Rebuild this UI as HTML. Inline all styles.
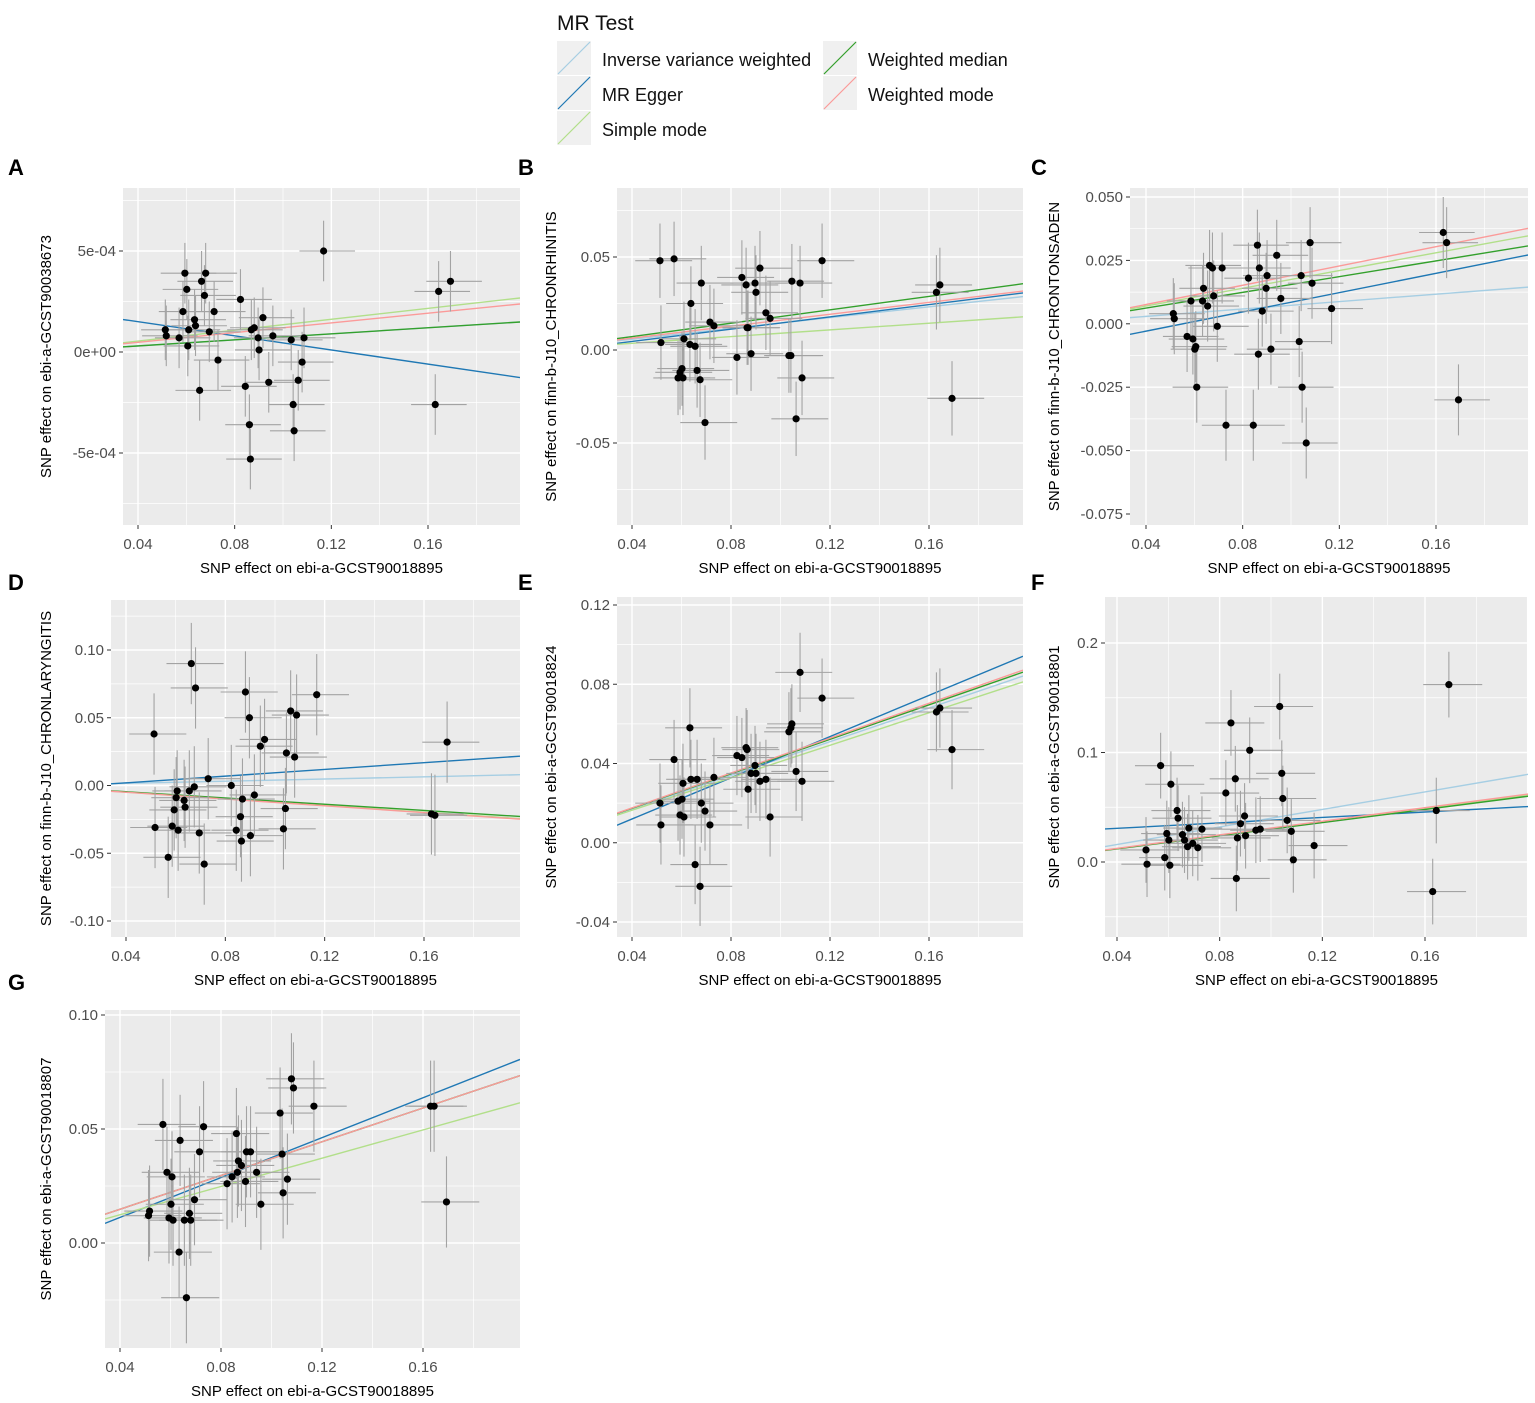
<!DOCTYPE html>
<html><head><meta charset="utf-8">
<style>
html,body{margin:0;padding:0;background:#fff;}
svg{display:block;font-family:"Liberation Sans",Arial,sans-serif;}
</style></head>
<body>
<svg id="fig" width="1535" height="1403" viewBox="0 0 1535 1403" xmlns="http://www.w3.org/2000/svg">
<g>
<text x="557" y="30" font-size="21" fill="#111">MR Test</text>
<g><rect x="557" y="41" width="34" height="34" fill="#f0f0f0"/><line x1="558" y1="74" x2="590" y2="42" stroke="#a6cee3" stroke-width="1.2"/><text x="602" y="66" font-size="18" fill="#111">Inverse variance weighted</text></g>
<g><rect x="557" y="76" width="34" height="34" fill="#f0f0f0"/><line x1="558" y1="109" x2="590" y2="77" stroke="#1f78b4" stroke-width="1.2"/><text x="602" y="101" font-size="18" fill="#111">MR Egger</text></g>
<g><rect x="557" y="111" width="34" height="34" fill="#f0f0f0"/><line x1="558" y1="144" x2="590" y2="112" stroke="#b2df8a" stroke-width="1.2"/><text x="602" y="136" font-size="18" fill="#111">Simple mode</text></g>
<g><rect x="823" y="41" width="34" height="34" fill="#f0f0f0"/><line x1="824" y1="74" x2="856" y2="42" stroke="#33a02c" stroke-width="1.2"/><text x="868" y="66" font-size="18" fill="#111">Weighted median</text></g>
<g><rect x="823" y="76" width="34" height="34" fill="#f0f0f0"/><line x1="824" y1="109" x2="856" y2="77" stroke="#fb9a99" stroke-width="1.2"/><text x="868" y="101" font-size="18" fill="#111">Weighted mode</text></g>
</g>
</svg>
<script>
// Shared exposure SNP effects (x)
const snpX = [0.0513,0.0517,0.0570,0.0586,0.0594,0.0602,0.0606,0.0610,0.0634,0.0638,0.0655,0.0663,0.0675,0.0680,0.0695,0.0715,0.0731,0.0824,0.0844,0.0861,0.0865,0.0869,0.0881,0.0897,0.0901,0.0917,0.0941,0.0958,0.1034,0.1042,0.1046,0.1063,0.1079,0.1087,0.1168,0.1630,0.1644,0.1693];
const xSE = 0.010;
const xTicks = [0.04,0.08,0.12,0.16];
const xTickLabels = ["0.04","0.08","0.12","0.16"];
const methodNames = ["Inverse variance weighted","MR Egger","Simple mode","Weighted median","Weighted mode"];
const methodColors = ["#a6cee3","#1f78b4","#b2df8a","#33a02c","#fb9a99"];

const yA = [1.1e-4,0.8e-4,0.7e-4,2.0e-4,3.9e-4,3.1e-4,0.3e-4,1.1e-4,1.6e-4,1.3e-4,-1.9e-4,3.5e-4,2.8e-4,3.9e-4,1.0e-4,2.0e-4,-0.4e-4,2.6e-4,-1.7e-4,-3.6e-4,-5.3e-4,1.1e-4,1.2e-4,0.7e-4,0.1e-4,1.7e-4,-1.5e-4,0.8e-4,0.6e-4,-2.6e-4,-3.9e-4,-1.4e-4,-0.5e-4,0.7e-4,5.0e-4,-2.6e-4,3.0e-4,3.5e-4];
const yB = [0.048,0.004,0.049,-0.015,-0.012,-0.010,-0.015,0.006,0.003,0.025,0.002,-0.011,-0.016,0.036,-0.039,0.015,0.013,-0.004,0.039,0.035,0.012,0.012,-0.002,0.036,0.031,0.044,0.020,0.017,-0.003,-0.003,0.037,-0.037,0.036,-0.015,0.048,0.031,0.035,-0.026];
const yC = [0.004,0.002,-0.005,0.009,-0.006,-0.010,-0.009,-0.025,0.009,0.014,0.007,0.023,0.022,0.011,-0.001,0.022,-0.040,0.018,-0.040,0.031,-0.012,0.022,0.005,0.014,0.019,-0.010,0.027,0.010,-0.007,0.019,-0.025,-0.047,0.032,0.016,0.006,0.036,0.032,-0.030];
const yD = [0.038,-0.031,-0.053,-0.030,-0.018,-0.009,-0.004,-0.033,-0.011,-0.016,-0.004,0.090,-0.001,0.072,-0.035,-0.058,0.005,0.000,-0.033,-0.023,-0.041,-0.010,0.069,0.050,-0.037,-0.007,0.029,0.034,-0.032,-0.017,0.024,0.055,0.021,0.052,0.067,-0.021,-0.022,0.032];
const yE = [0.020,0.009,0.042,0.021,0.014,0.022,0.030,0.013,0.058,0.032,-0.011,0.032,-0.022,0.020,0.016,0.009,0.033,0.044,0.043,0.048,0.047,0.027,0.035,0.039,0.035,0.031,0.032,0.013,0.056,0.058,0.060,0.036,0.086,0.031,0.073,0.066,0.068,0.047];
const yF = [0.011,-0.002,0.088,0.004,0.026,0.020,-0.003,0.071,0.047,0.040,0.025,0.020,0.014,0.031,0.017,0.013,0.030,0.063,0.127,0.076,-0.015,0.022,0.035,0.042,0.024,0.102,0.029,0.030,0.142,0.081,0.058,0.038,0.028,0.002,0.015,-0.027,0.047,0.162];
const yG = [0.012,0.014,0.052,0.031,0.011,0.017,0.029,0.010,-0.004,0.045,0.010,-0.024,0.013,0.010,0.019,0.040,0.051,0.026,0.029,0.048,0.031,0.036,0.034,0.027,0.040,0.040,0.031,0.017,0.057,0.039,0.022,0.028,0.072,0.068,0.060,0.060,0.060,0.018];

// slopes per method [IVW, Egger, SimpleMode, WMedian, WMode]; Egger intercepts
const slopesA = [7.5e-4,-1.75e-3,1.35e-3,7.5e-4,1.2e-3]; const eggerIntA = 2.2e-4;
const slopesB = [0.145,0.165,0.09,0.18,0.16]; const eggerIntB = -0.002;
const slopesC = [0.073,0.19,0.175,0.155,0.19]; const eggerIntC = -0.0105;
const slopesD = [0.04,0.124,-0.123,-0.115,-0.125]; const eggerIntD = -0.003;
const slopesE = [0.425,0.52,0.41,0.435,0.44]; const eggerIntE = -0.0088;
const slopesF = [0.40,0.124,0.305,0.30,0.31]; const eggerIntF = 0.0258;
const slopesG = [0.37,0.4375,0.31,0.37,0.37]; const eggerIntG = -0.0063;

const ySEA = 1.5e-4, ySEB = 0.02, ySEC = 0.014, ySED = 0.03, ySEE = 0.02, ySEF = 0.03, ySEG = 0.02;

const yTicksA = [5e-4,0,-5e-4]; const yTickLabelsA = ["5e-04","0e+00","-5e-04"];
const yTicksB = [0.05,0,-0.05]; const yTickLabelsB = ["0.05","0.00","-0.05"];
const yTicksC = [0.05,0.025,0,-0.025,-0.05,-0.075]; const yTickLabelsC = ["0.050","0.025","0.000","-0.025","-0.050","-0.075"];
const yTicksD = [0.1,0.05,0,-0.05,-0.1]; const yTickLabelsD = ["0.10","0.05","0.00","-0.05","-0.10"];
const yTicksE = [0.12,0.08,0.04,0,-0.04]; const yTickLabelsE = ["0.12","0.08","0.04","0.00","-0.04"];
const yTicksF = [0.2,0.1,0]; const yTickLabelsF = ["0.2","0.1","0.0"];
const yTicksG = [0.1,0.05,0]; const yTickLabelsG = ["0.10","0.05","0.00"];

const panels = [
 {id:"a",letter:"A",lx:8,ly:175,L:123,R:520,T:188,B:525,x04:138,x16:428,yv:[5e-4,-5e-4],yp:[251,453],ys:yA,se:ySEA,sl:slopesA,ei:eggerIntA,yt:yTicksA,ytl:yTickLabelsA,ytitle:"SNP effect on ebi-a-GCST90038673",tx:51},
 {id:"b",letter:"B",lx:518,ly:175,L:617,R:1023,T:188,B:525,x04:632,x16:929,yv:[0.05,-0.05],yp:[257,443],ys:yB,se:ySEB,sl:slopesB,ei:eggerIntB,yt:yTicksB,ytl:yTickLabelsB,ytitle:"SNP effect on finn-b-J10_CHRONRHINITIS",tx:556},
 {id:"c",letter:"C",lx:1031,ly:175,L:1130,R:1528,T:188,B:525,x04:1146,x16:1436,yv:[0.05,-0.075],yp:[197,514],ys:yC,se:ySEC,sl:slopesC,ei:eggerIntC,yt:yTicksC,ytl:yTickLabelsC,ytitle:"SNP effect on finn-b-J10_CHRONTONSADEN",tx:1059},
 {id:"d",letter:"D",lx:8,ly:590,L:111,R:520,T:600,B:937,x04:126,x16:424,yv:[0.1,-0.1],yp:[650,921],ys:yD,se:ySED,sl:slopesD,ei:eggerIntD,yt:yTicksD,ytl:yTickLabelsD,ytitle:"SNP effect on finn-b-J10_CHRONLARYNGITIS",tx:51},
 {id:"e",letter:"E",lx:518,ly:590,L:617,R:1023,T:597,B:937,x04:632,x16:929,yv:[0.12,-0.04],yp:[605,922],ys:yE,se:ySEE,sl:slopesE,ei:eggerIntE,yt:yTicksE,ytl:yTickLabelsE,ytitle:"SNP effect on ebi-a-GCST90018824",tx:556},
 {id:"f",letter:"F",lx:1031,ly:590,L:1105,R:1528,T:597,B:937,x04:1117,x16:1425,yv:[0.2,0],yp:[643,862],ys:yF,se:ySEF,sl:slopesF,ei:eggerIntF,yt:yTicksF,ytl:yTickLabelsF,ytitle:"SNP effect on ebi-a-GCST90018801",tx:1059},
 {id:"g",letter:"G",lx:8,ly:990,L:105,R:520,T:1010,B:1348,x04:120,x16:423,yv:[0.1,0],yp:[1015,1243],ys:yG,se:ySEG,sl:slopesG,ei:eggerIntG,yt:yTicksG,ytl:yTickLabelsG,ytitle:"SNP effect on ebi-a-GCST90018807",tx:51}
];

const NS = "http://www.w3.org/2000/svg";
const svg = document.getElementById("fig");
function mk(tag, attrs, parent){ const e=document.createElementNS(NS,tag); for(const k in attrs) e.setAttribute(k,attrs[k]); parent.appendChild(e); return e; }
const defs = mk("defs",{},svg);

panels.forEach(p=>{
  const sx = v => p.x04 + (v-0.04)*(p.x16-p.x04)/0.12;
  const sy = v => p.yp[0] + (v-p.yv[0])*(p.yp[1]-p.yp[0])/(p.yv[1]-p.yv[0]);
  const ix = px => 0.04 + (px-p.x04)*0.12/(p.x16-p.x04);
  const g = mk("g",{},svg);
  
  
  const letter = mk("text",{x:p.lx,y:p.ly,"font-size":22,"font-weight":"bold",fill:"#000"},g);
  letter.textContent = p.letter;
  
  
  const cp = mk("clipPath",{id:"clip"+p.id},defs);
  mk("rect",{x:p.L,y:p.T,width:p.R-p.L,height:p.B-p.T},cp);
  const bg = mk("rect",{x:p.L,y:p.T,width:p.R-p.L,height:p.B-p.T,fill:"#ebebeb"},g);
  
  
  const grid = mk("g",{"clip-path":"url(#clip"+p.id+")"},g);
  
  
  for(let v=0.02; v<=0.22; v+=0.02){
    const x=sx(v); const major = Math.round(v*100)%4===0;
    mk("line",{x1:x,x2:x,y1:p.T,y2:p.B,stroke:"#fff","stroke-width":major?1.4:0.7},grid);
  }
  const ystep = p.yt[0]-p.yt[1];
  for(let k=-8;k<=8;k++){
    const v = p.yt[0] + k*ystep/2; const y=sy(v);
    if(y<p.T-1||y>p.B+1) continue;
    mk("line",{x1:p.L,x2:p.R,y1:y,y2:y,stroke:"#fff","stroke-width":(k%2===0)?1.4:0.7},grid);
  }
  xTicks.forEach((v,i)=>{
    const x=sx(v);
    mk("line",{x1:x,x2:x,y1:p.B,y2:p.B+4,stroke:"#333","stroke-width":1},g);
    const t=mk("text",{x:x,y:p.B+24,"font-size":15,fill:"#4d4d4d","text-anchor":"middle"},g);
    t.textContent = xTickLabels[i];
    
    
  });
  p.yt.forEach((v,i)=>{
    const y=sy(v);
    mk("line",{x1:p.L-4,x2:p.L,y1:y,y2:y,stroke:"#333","stroke-width":1},g);
    const t=mk("text",{x:p.L-7,y:y+5,"font-size":15,fill:"#4d4d4d","text-anchor":"end"},g);
    t.textContent = p.ytl[i];
    
    
  });
  const xt = mk("text",{x:(p.L+p.R)/2,y:p.B+48,"font-size":15,fill:"#000","text-anchor":"middle"},g);
  xt.textContent = "SNP effect on ebi-a-GCST90018895";
  
  
  const cy=(p.T+p.B)/2;
  const yt = mk("text",{x:p.tx,y:cy,"font-size":15,fill:"#000","text-anchor":"middle",transform:"rotate(-90 "+p.tx+" "+cy+")"},g);
  yt.textContent = p.ytitle;
  
  
  const data = mk("g",{"clip-path":"url(#clip"+p.id+")"},g);
  
  
  snpX.forEach((xv,i)=>{
    const yv=p.ys[i]; if(yv===undefined) return;
    const X=sx(xv), Y=sy(yv);
    mk("line",{x1:sx(xv-xSE),x2:sx(xv+xSE*1.3),y1:Y,y2:Y,stroke:"#a3a3a3","stroke-width":1.1},data);
    mk("line",{x1:X,x2:X,y1:sy(yv-p.se),y2:sy(yv+p.se),stroke:"#a3a3a3","stroke-width":1.1},data);
  });
  const lines = mk("g",{"clip-path":"url(#clip"+p.id+")"},g);
  const x0=ix(p.L), x1=ix(p.R);
  p.sl.forEach((s,m)=>{
    const b = (m===1)?p.ei:0;
    const ln = mk("line",{x1:sx(x0),y1:sy(b+s*x0),x2:sx(x1),y2:sy(b+s*x1),stroke:methodColors[m],"stroke-width":1.4},lines);
    
    
  });
  snpX.forEach((xv,i)=>{
    const yv=p.ys[i]; if(yv===undefined) return;
    const c = mk("circle",{cx:sx(xv),cy:sy(yv),r:3.6,fill:"#000"},data);
    
    
  });
  g.appendChild(data);
});
</script>
</body></html>
